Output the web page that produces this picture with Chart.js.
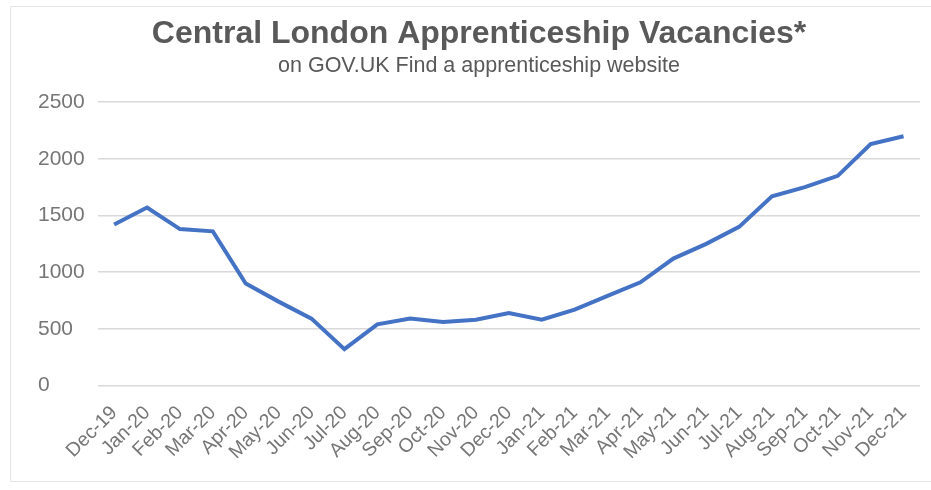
<!DOCTYPE html>
<html>
<head>
<meta charset="utf-8">
<script src="https://cdn.jsdelivr.net/npm/chart.js@4/dist/chart.umd.min.js"></script>
<style>
  html, body { margin: 0; padding: 0; background: #fff; }
  #wrap { position: relative; width: 931px; height: 490px; }
  #frame { position: absolute; left: 10px; top: 6px; right: 0; bottom: 8px; border: 1px solid #e6e6e6; border-right: none; }
  canvas { position: absolute; left: 0; top: 0; }
</style>
</head>
<body>
<div id="wrap">
  <div id="frame"></div>
  <canvas id="chart" width="931" height="490"></canvas>
</div>
<script>
// Central London apprenticeship vacancies, monthly
const MONTHS = [
  "Dec-19", "Jan-20", "Feb-20", "Mar-20", "Apr-20", "May-20", "Jun-20", "Jul-20",
  "Aug-20", "Sep-20", "Oct-20", "Nov-20", "Dec-20", "Jan-21", "Feb-21", "Mar-21",
  "Apr-21", "May-21", "Jun-21", "Jul-21", "Aug-21", "Sep-21", "Oct-21", "Nov-21", "Dec-21"
];
const VACANCIES = [
  1420, 1570, 1380, 1360, 900, 740, 590, 320,
  540, 590, 560, 580, 640, 580, 670, 790,
  910, 1120, 1250, 1400, 1670, 1750, 1850, 2130, 2200
];
const Y_TICKS = [0, 500, 1000, 1500, 2000, 2500];

const GREY = "#595959";
const TICK_GREY = "#767676";

new Chart(document.getElementById("chart"), {
  type: "line",
  data: {
    labels: MONTHS,
    datasets: [{
      data: VACANCIES,
      borderColor: "#4472C4",
      borderWidth: 4,
      pointRadius: 0,
      tension: 0,
      fill: false
    }]
  },
  options: {
    responsive: false,
    animation: false,
    layout: { padding: { left: 38, right: 11, top: 0, bottom: 18 } },
    plugins: {
      legend: { display: false },
      tooltip: { enabled: false },
      title: {
        display: true,
        text: "Central London Apprenticeship Vacancies*",
        color: GREY,
        font: { family: "Liberation Sans", size: 32, weight: "bold" },
        padding: { top: 15, bottom: 0 }
      },
      subtitle: {
        display: true,
        text: "on GOV.UK Find a apprenticeship website",
        color: GREY,
        font: { family: "Liberation Sans", size: 21.5 },
        padding: { top: 0, bottom: 23 }
      }
    },
    scales: {
      x: {
        offset: true,
        grid: { display: false },
        border: { display: false },
        ticks: {
          color: TICK_GREY,
          font: { family: "Liberation Sans", size: 19.5 },
          minRotation: 45,
          maxRotation: 45,
          autoSkip: false,
          padding: 8
        },
        // rotated labels may hang past the plot edges, as in the original
        afterFit: s => { s.paddingLeft = 0; s.paddingRight = 0; }
      },
      y: {
        min: 0,
        max: 2500,
        afterBuildTicks: axis => { axis.ticks = Y_TICKS.map(v => ({ value: v })); },
        grid: { color: "#d9d9d9", lineWidth: 1.5, drawTicks: false },
        border: { display: false },
        ticks: {
          color: TICK_GREY,
          font: { family: "Liberation Sans", size: 21 },
          padding: 6.5,
          crossAlign: "far",
          callback: v => String(v)
        }
      }
    }
  }
});
</script>
</body>
</html>
